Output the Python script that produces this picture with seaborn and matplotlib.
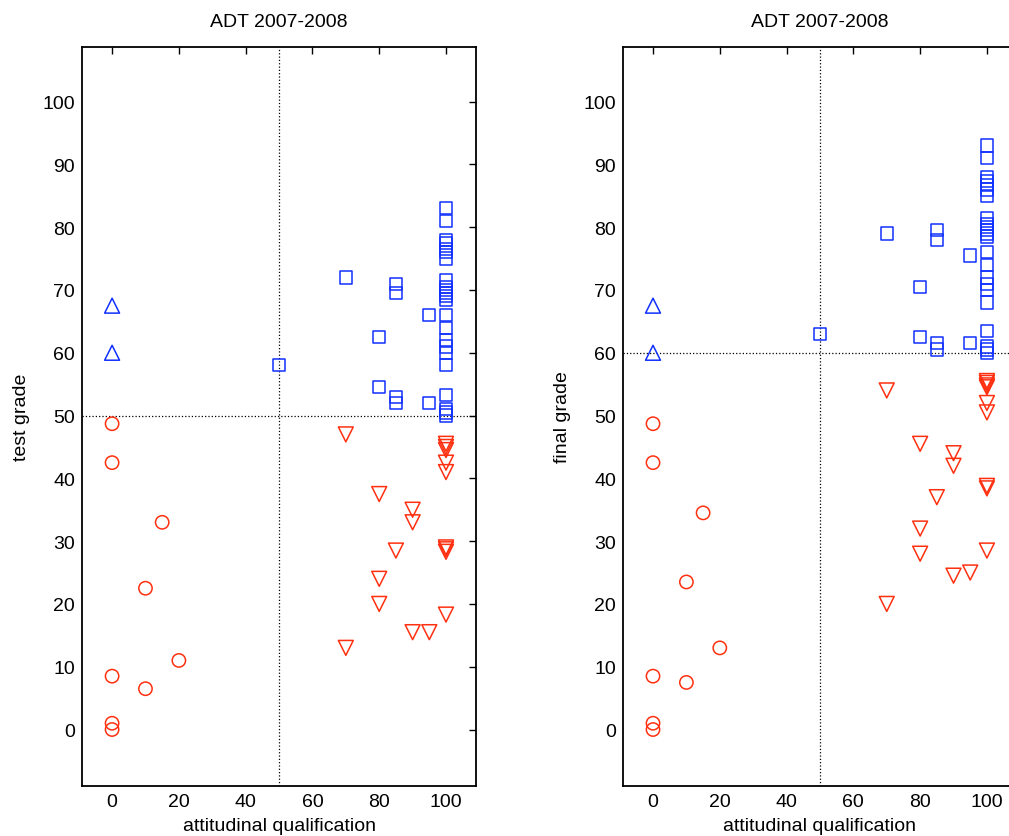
import pandas as pd
import seaborn as sns
import matplotlib.pyplot as plt

# test grade panel (left)
test_x_up = [0, 0]
test_y_up = [67.5, 60]
test_x_circ = [0, 0, 0, 0, 0, 10, 10, 15, 20]
test_y_circ = [48.7, 42.5, 8.5, 1, 0, 22.5, 6.5, 33, 11]
test_x_sq = [50, 70, 80, 80, 85, 85, 85, 85, 95, 95] + [100] * 23
test_y_sq = [58, 72, 62.5, 54.5, 71, 69.5, 53, 52, 66, 52,
             83, 81, 78, 77.5, 76.5, 76, 75, 71.5, 70.5, 70, 69.5, 69, 68.5,
             66, 64, 62, 61, 60, 58, 53.3, 51, 50.5, 50]
test_x_down = [70, 70, 80, 80, 80, 85, 90, 90, 90, 95] + [100] * 9
test_y_down = [47, 13, 37.5, 24, 20, 28.5, 35, 33, 15.5, 15.5,
               45.5, 45, 44.5, 42.5, 41, 29, 28.7, 28.3, 18.3]

# final grade panel (right)
final_x_up = [0, 0]
final_y_up = [67.5, 60]
final_x_circ = [0, 0, 0, 0, 0, 10, 10, 15, 20]
final_y_circ = [48.7, 42.5, 8.5, 1, 0, 23.5, 7.5, 34.5, 13]
final_x_sq = [50, 70, 80, 80, 85, 85, 85, 85, 95, 95] + [100] * 23
final_y_sq = [63, 79, 70.5, 62.5, 79.5, 78, 61.5, 60.5, 75.5, 61.5,
              93, 91, 88, 87.3, 86.7, 86, 85, 81.5, 80.5, 80, 79.5, 79, 78.5,
              76, 74, 72, 71, 70, 68, 63.5, 61, 60.5, 60]
final_x_down = [70, 70, 80, 80, 80, 85, 90, 90, 90, 95] + [100] * 9
final_y_down = [54, 20, 45.5, 32, 28, 37, 44, 42, 24.5, 25,
                55.5, 55.2, 54.8, 54.5, 52, 50.5, 38.8, 38.4, 28.5]

ticks_x = [0, 20, 40, 60, 80, 100]
ticks_y = [0, 10, 20, 30, 40, 50, 60, 70, 80, 90, 100]

BLUE = '#1030ff'
RED = '#ff3010'

sns.set_style("white")
plt.rcParams['font.family'] = ['Liberation Sans', 'DejaVu Sans']
plt.rcParams['text.color'] = 'black'
plt.rcParams['axes.labelcolor'] = 'black'
plt.rcParams['xtick.color'] = 'black'
plt.rcParams['ytick.color'] = 'black'

fig = plt.figure(figsize=(10.09, 8.37), dpi=100)
ax1 = fig.add_axes([0.0813, 0.0597, 0.3905, 0.883])
ax2 = fig.add_axes([0.6174, 0.0597, 0.3905, 0.883])


def draw(ax, groups, ylabel, yline):
    for xs, ys, marker, color, size in groups:
        df = pd.DataFrame({'x': xs, 'y': ys})
        sns.scatterplot(data=df, x='x', y='y', ax=ax, marker=marker, s=size,
                        facecolor='none', edgecolor=color, linewidth=1.1)
    ax.axvline(50, color='black', linestyle=':', linewidth=0.9, zorder=0)
    ax.axhline(yline, color='black', linestyle=':', linewidth=0.9, zorder=0)
    ax.set_xlim(-9, 109)
    ax.set_ylim(-9, 108.7)
    ax.set_xticks(ticks_x)
    ax.set_yticks(ticks_y)
    ax.tick_params(direction='in', length=5, width=1, top=True, right=True,
                   labelsize=14, pad=5)
    for sp in ax.spines.values():
        sp.set_color('black')
        sp.set_linewidth(1.3)
    ax.set_xlabel('attitudinal qualification', fontsize=14, labelpad=5)
    ax.set_ylabel(ylabel, fontsize=14, labelpad=9)
    ax.set_title('ADT 2007-2008', fontsize=14, pad=15)


draw(ax1, [(test_x_up, test_y_up, '^', BLUE, 115),
           (test_x_circ, test_y_circ, 'o', RED, 92),
           (test_x_sq, test_y_sq, 's', BLUE, 78),
           (test_x_down, test_y_down, 'v', RED, 115)], 'test grade', 50)
draw(ax2, [(final_x_up, final_y_up, '^', BLUE, 115),
           (final_x_circ, final_y_circ, 'o', RED, 92),
           (final_x_sq, final_y_sq, 's', BLUE, 78),
           (final_x_down, final_y_down, 'v', RED, 115)], 'final grade', 60)

plt.savefig('out.png', dpi=100)
